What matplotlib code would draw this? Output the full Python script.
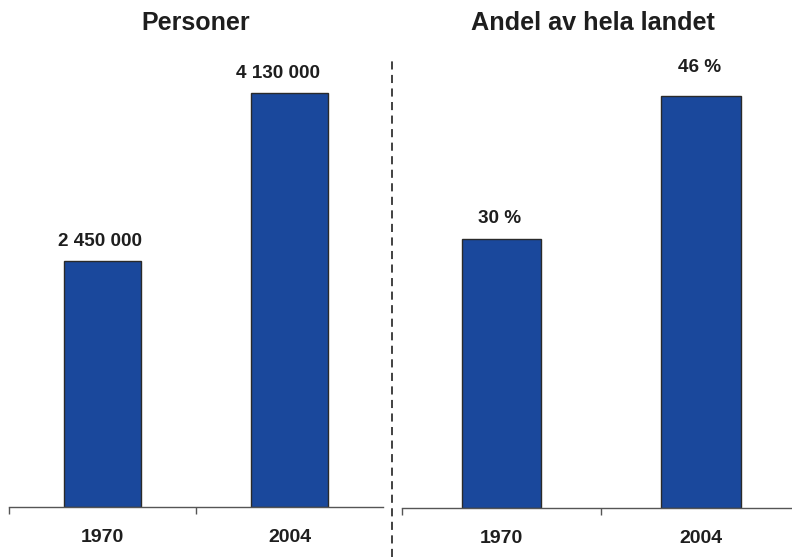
import matplotlib
matplotlib.use("Agg")
import matplotlib.pyplot as plt
from matplotlib.lines import Line2D

plt.rcParams['font.family'] = ['Liberation Sans', 'DejaVu Sans']

years = ["1970", "2004"]
persons = [2450000, 4130000]
person_labels = ["2 450 000", "4 130 000"]
share = [30, 46]
share_labels = ["30 %", "46 %"]
titles = ["Personer", "Andel av hela landet"]

BAR = "#1A489C"
EDGE = "#2a2a2a"
TXT = "#1e1e1e"
AX = "#555555"

fig = plt.figure(figsize=(7.92, 5.57), dpi=100)
W, H = 792, 557

def setup(ax, major):
    ax.set_xlim(-0.5, 1.5)
    for s in ["top", "right", "left"]:
        ax.spines[s].set_visible(False)
    ax.spines["bottom"].set_color(AX)
    ax.spines["bottom"].set_linewidth(1.0)
    ax.set_yticks([])
    ax.set_xticks(major)
    ax.set_xticklabels([])
    ax.tick_params(axis="x", which="major", length=5, width=1.0, color=AX, direction="out")
    ax.set_xticks([0, 1], minor=True)
    ax.set_xticklabels(years, minor=True, fontsize=14, fontweight="bold", color=TXT)
    ax.tick_params(axis="x", which="minor", length=0, pad=15.5)
    ax.patch.set_alpha(0)

# left panel
ax1 = fig.add_axes([9 / W, 50 / H, 374 / W, 451 / H])
ax1.set_ylim(0, 4500000)
setup(ax1, [-0.5, 0.5])
b1 = ax1.bar(range(len(years)), persons, width=0.41, color=BAR, edgecolor=EDGE, linewidth=1.0)
xoffs = [-1.5, -8]
for rect, lab, dx in zip(b1, person_labels, xoffs):
    ax1.annotate(lab, (rect.get_x() + rect.get_width() / 2, rect.get_height()),
                 xytext=(dx, 8), textcoords="offset points", ha="center", va="bottom",
                 fontsize=13.6, fontweight="bold", color=TXT)

# right panel
ax2 = fig.add_axes([402 / W, 49 / H, 398.5 / W, 447.8 / H])
ax2.set_ylim(0, 50)
setup(ax2, [-0.5, 0.5, 1.5])
b2 = ax2.bar(range(len(years)), share, width=0.40, color=BAR, edgecolor=EDGE, linewidth=1.0)
offsets = [9, 14.5]
for rect, lab, off in zip(b2, share_labels, offsets):
    ax2.annotate(lab, (rect.get_x() + rect.get_width() / 2, rect.get_height()),
                 xytext=(-1.2, off), textcoords="offset points", ha="center", va="bottom",
                 fontsize=13.6, fontweight="bold", color=TXT)

# titles
fig.text(196 / W, 1 - 30 / H, titles[0], ha="center", va="baseline",
         fontsize=18, fontweight="bold", color=TXT)
fig.text(592.5 / W, 1 - 30 / H, titles[1], ha="center", va="baseline",
         fontsize=18.2, fontweight="bold", color=TXT)

# dashed separator
fig.add_artist(Line2D([392 / W, 392 / W], [0, 1 - 57 / H], transform=fig.transFigure,
                      color="#333333", linewidth=1.3, linestyle=(0, (4.5, 3))))

fig.savefig("out.png", dpi=100, facecolor="white")
